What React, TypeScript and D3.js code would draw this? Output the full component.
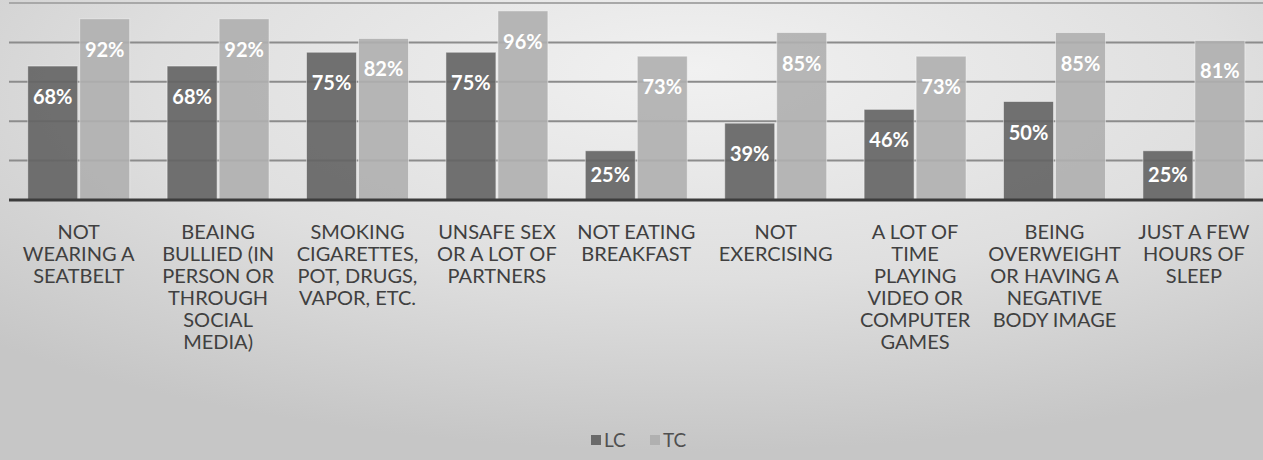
import React from "react";
import * as d3 from "d3";

const categories: string[] = [
  "NOT\nWEARING A\nSEATBELT",
  "BEAING\nBULLIED (IN\nPERSON OR\nTHROUGH\nSOCIAL\nMEDIA)",
  "SMOKING\nCIGARETTES,\nPOT, DRUGS,\nVAPOR, ETC.",
  "UNSAFE SEX\nOR A LOT OF\nPARTNERS",
  "NOT EATING\nBREAKFAST",
  "NOT\nEXERCISING",
  "A LOT OF\nTIME\nPLAYING\nVIDEO OR\nCOMPUTER\nGAMES",
  "BEING\nOVERWEIGHT\nOR HAVING A\nNEGATIVE\nBODY IMAGE",
  "JUST A FEW\nHOURS OF\nSLEEP",
];
const seriesNames: string[] = ["LC", "TC"];
const lcValues: number[] = [68, 68, 75, 75, 25, 39, 46, 50, 25];
const tcValues: number[] = [92, 92, 82, 96, 73, 85, 73, 85, 81];
const gridTicks: number[] = [20, 40, 60, 80, 100];

const W = 1263;
const H = 460;
const FONT = "Lato, 'Open Sans', sans-serif";
const colors: Record<string, string> = { LC: "#636363", TC: "#afafaf" };
const legendColors: Record<string, string> = { LC: "#6a6a6a", TC: "#b0b0b0" };

export default function App() {
  const x = d3.scaleBand<number>().domain(d3.range(categories.length)).range([9, 1263.6]).padding(0);
  const sub = d3
    .scaleBand<string>()
    .domain(seriesNames)
    .range([0, x.bandwidth()])
    .paddingInner(0.0385)
    .paddingOuter(0.36);
  const y = d3.scaleLinear().domain([0, 100]).range([200, 3]);
  const values: Record<string, number[]> = { LC: lcValues, TC: tcValues };

  return (
    <svg
      width={W}
      height={H}
      style={{ position: "absolute", left: 0, top: 0, display: "block" }}
      fontFamily={FONT}
    >
      <defs>
        <radialGradient id="bg" cx="0.55" cy="0.2" r="0.78" fx="0.55" fy="0.15">
          <stop offset="0" stopColor="#f1f1f1" />
          <stop offset="0.55" stopColor="#dfdfdf" />
          <stop offset="1" stopColor="#c6c6c6" />
        </radialGradient>
      </defs>
      <rect x={0} y={0} width={W} height={H} fill="url(#bg)" />
      {gridTicks.map((t) => (
        <line key={t} x1={9} x2={W} y1={y(t)} y2={y(t)} stroke={t === 100 ? "#a8a8a8" : "#8c8c8c"} strokeWidth={2} />
      ))}
      {categories.map((c, i) =>
        seriesNames.map((s) => {
          const v = values[s][i];
          const bx = (x(i) as number) + (sub(s) as number);
          const top = y(v);
          const bw = sub.bandwidth();
          const ly = Math.min(top + 31, (top + y(0)) / 2);
          return (
            <g key={`${i}-${s}`}>
              <rect
                x={bx}
                y={top}
                width={bw}
                height={y(0) - top}
                fill={colors[s]}
                fillOpacity={0.9}
                stroke="#ffffff"
                strokeOpacity={0.45}
                strokeWidth={1}
              />
              <text
                x={bx + bw / 2}
                y={ly}
                dy="0.35em"
                textAnchor="middle"
                fill="#ffffff"
                fontWeight="bold"
                fontSize={20}
              >
                {`${v}%`}
              </text>
            </g>
          );
        })
      )}
      <line x1={9} x2={W} y1={y(0)} y2={y(0)} stroke="#3c3c3c" strokeWidth={3} />
      {categories.map((c, i) => (
        <text
          key={`lab-${i}`}
          x={(x(i) as number) + x.bandwidth() / 2}
          y={239}
          textAnchor="middle"
          fill="#404040"
          fontSize={20}
        >
          {c.split("\n").map((line, k) => (
            <tspan key={k} x={(x(i) as number) + x.bandwidth() / 2} dy={k === 0 ? 0 : 22}>
              {line}
            </tspan>
          ))}
        </text>
      ))}
      <g transform="translate(591,440)">
        {seriesNames.map((s, k) => (
          <g key={s} transform={`translate(${k * 59},0)`}>
            <rect x={0} y={-5} width={10} height={10} fill={legendColors[s]} />
            <text x={13} y={0} dy="0.35em" fontSize={19} fill="#505050">
              {s}
            </text>
          </g>
        ))}
      </g>
    </svg>
  );
}
